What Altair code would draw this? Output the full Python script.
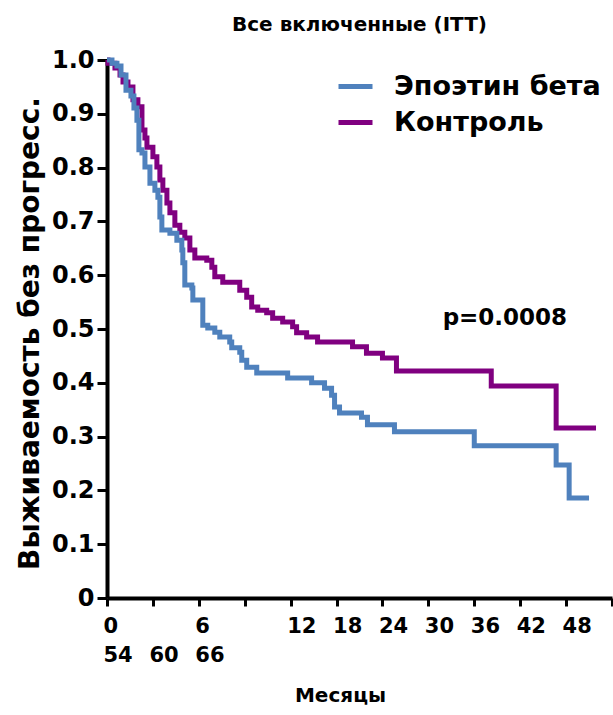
import altair as alt
import pandas as pd

# Эпоэтин бета (months, survival)
epo_t = [0, 0.65, 1.30, 1.83, 2.48, 3.13, 3.52, 3.91, 4.17, 4.57, 4.96, 5.61, 6.26, 6.65, 6.91, 7.17,
         8.22, 9.13, 9.78, 9.91, 10.17, 11.09, 11.22, 12.52, 13.17, 14.09, 14.74, 16.04, 16.30, 17.35,
         17.61, 18.26, 19.57, 23.61, 26.74, 28.43, 29.35, 29.74, 30.39, 33.26, 34.04, 37.57, 48.0,
         58.7, 60.4, 63.0]
epo_s = [1.0, 0.994, 0.989, 0.972, 0.944, 0.933, 0.911, 0.888, 0.833, 0.827, 0.801, 0.771, 0.758, 0.745,
         0.708, 0.684, 0.678, 0.665, 0.647, 0.623, 0.582, 0.576, 0.554, 0.507, 0.502, 0.494, 0.485, 0.476,
         0.465, 0.457, 0.442, 0.429, 0.418, 0.409, 0.400, 0.390, 0.377, 0.355, 0.344, 0.336, 0.322, 0.309,
         0.283, 0.247, 0.186, 0.186]

# Контроль
ctl_t = [0, 0.13, 1.04, 1.70, 2.09, 2.74, 3.39, 4.04, 4.57, 4.96, 5.22, 6.00, 6.52, 6.91, 7.30, 7.83,
         8.22, 8.87, 9.52, 10.17, 10.83, 11.48, 13.04, 13.70, 14.09, 15.13, 17.35, 18.26, 18.91, 19.70,
         20.87, 21.65, 22.96, 24.26, 24.78, 26.09, 27.52, 32.09, 33.91, 36.00, 37.83, 50.22, 58.70, 63.91]
ctl_s = [1.0, 0.994, 0.985, 0.972, 0.959, 0.950, 0.926, 0.913, 0.870, 0.855, 0.838, 0.820, 0.801, 0.777,
         0.758, 0.734, 0.716, 0.693, 0.680, 0.669, 0.647, 0.632, 0.628, 0.615, 0.597, 0.587, 0.572, 0.559,
         0.541, 0.535, 0.530, 0.520, 0.513, 0.504, 0.493, 0.485, 0.476, 0.467, 0.455, 0.446, 0.422, 0.394,
         0.316, 0.316]

series_names = ["Эпоэтин бета", "Контроль"]
series_colors = ["#4F81BD", "#800080"]
x_ticks = list(range(0, 67, 6))
y_ticks = [round(i * 0.1, 1) for i in range(11)]

p_label = ["p=0.0008"]
p_pos = [(52, 0.52)]

df = pd.concat([
    pd.DataFrame({"t": epo_t, "s": epo_s, "g": series_names[0]}),
    pd.DataFrame({"t": ctl_t, "s": ctl_s, "g": series_names[1]}),
])
pdf = pd.DataFrame({"t": [p_pos[0][0]], "s": [p_pos[0][1]], "label": p_label})

FONT = "DejaVu Sans"

x_enc = alt.X("t:Q",
              scale=alt.Scale(domain=[0, 66], nice=False, zero=False),
              axis=alt.Axis(values=x_ticks, title="Месяцы",
                            labelExpr="datum.value == 0 ? ['0','54'] : datum.value == 6 ? ['','60'] : datum.value == 12 ? ['6','66'] : (datum.value >= 24 && datum.value <= 60) ? '' + (datum.value - 12) : ''",
                            labelAlign="left", labelOffset=-4, labelFlush=False, labelOverlap=False,
                            labelFontSize=21, labelFontWeight="bold", labelLineHeight=29,
                            labelPadding=9, labelBaseline="top",
                            tickSize=8, tickWidth=3, domainWidth=4,
                            titleFontSize=20, titleFontWeight="bold",
                            titleX=233, titleY=97, titleAnchor="middle", titleAlign="center", titleBaseline="middle"))

y_enc = alt.Y("s:Q",
              scale=alt.Scale(domain=[0, 1], nice=False),
              axis=alt.Axis(values=y_ticks, title="Выживаемость без прогресс.",
                            labelExpr="datum.value == 0 ? '0' : format(datum.value, '.1f')",
                            labelFontSize=24, labelFontWeight="bold", labelPadding=3,
                            tickSize=10, tickWidth=3, domainWidth=4,
                            titleFontSize=28, titleFontWeight="bold",
                            titleX=-77, titleY=273, titleAngle=-90, titleAlign="center", titleBaseline="middle"))

color = alt.Color("g:N",
                  scale=alt.Scale(domain=series_names, range=series_colors),
                  legend=alt.Legend(title=None, orient="none", legendX=229, legendY=7,
                                    symbolType="stroke", symbolSize=1156, symbolStrokeWidth=5,
                                    labelFontSize=27, labelFontWeight="bold", labelOffset=19,
                                    rowPadding=3, padding=0, labelLimit=400))

base = alt.Chart(df)
ctl_line = base.transform_filter(alt.datum.g == series_names[1]).mark_line(
    interpolate="step-after", strokeWidth=5).encode(x=x_enc, y=y_enc, color=color)
epo_line = base.transform_filter(alt.datum.g == series_names[0]).mark_line(
    interpolate="step-after", strokeWidth=5).encode(x=x_enc, y=y_enc, color=color)

ptext = alt.Chart(pdf).mark_text(fontSize=23, fontWeight="bold", font=FONT, color="black").encode(
    x="t:Q", y="s:Q", text="label:N")

chart = alt.layer(ctl_line, epo_line, ptext).properties(
    width=505, height=538,
    title=alt.TitleParams("Все включенные (ITT)", fontSize=20, fontWeight="bold", font=FONT,
                          anchor="middle", offset=13, frame="group", color="black"),
    autosize=alt.AutoSizeParams(type="none"),
    padding={"left": 107, "top": 60, "right": 1, "bottom": 117},
).configure(font=FONT).configure_view(stroke=None).configure_axis(
    grid=False, domainColor="black", tickColor="black", labelColor="black", titleColor="black",
    labelFont=FONT, titleFont=FONT
).configure_legend(labelFont=FONT, labelColor="black")

chart.save("out.html", embed_options={"renderer": "svg", "actions": False})
